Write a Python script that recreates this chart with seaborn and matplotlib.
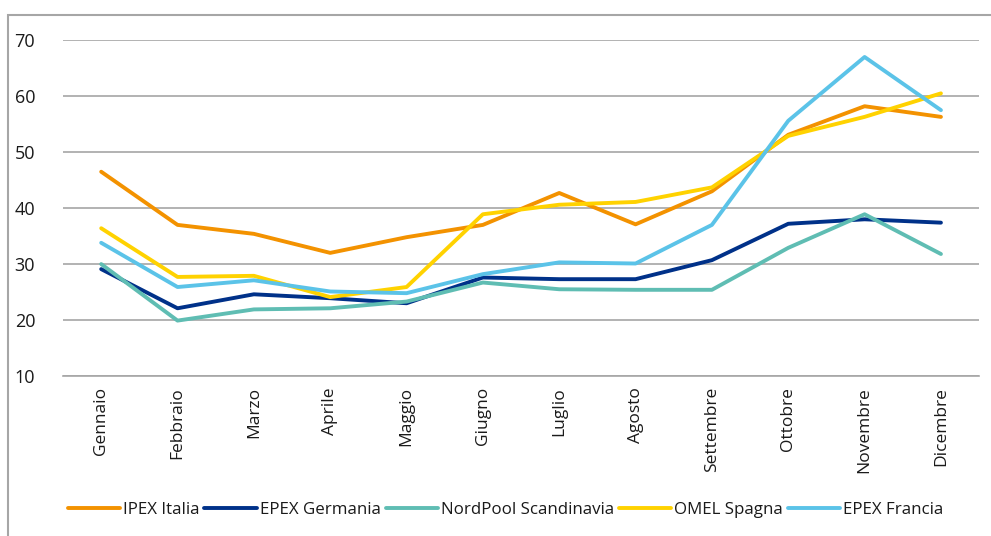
import pandas as pd
import matplotlib.pyplot as plt
import matplotlib.patches as patches
import seaborn as sns

mesi = ["Gennaio", "Febbraio", "Marzo", "Aprile", "Maggio", "Giugno",
        "Luglio", "Agosto", "Settembre", "Ottobre", "Novembre", "Dicembre"]

ipex_italia = [46.5, 37.0, 35.4, 32.0, 34.8, 37.0, 42.7, 37.1, 43.0, 53.1, 58.2, 56.3]
epex_germania = [29.1, 22.1, 24.6, 23.9, 23.0, 27.6, 27.3, 27.3, 30.7, 37.2, 38.0, 37.4]
nordpool = [30.0, 19.9, 21.9, 22.1, 23.3, 26.7, 25.5, 25.4, 25.4, 32.9, 38.9, 31.8]
omel_spagna = [36.4, 27.7, 27.9, 24.1, 25.9, 38.9, 40.6, 41.1, 43.7, 52.9, 56.3, 60.5]
epex_francia = [33.8, 25.9, 27.1, 25.1, 24.8, 28.2, 30.3, 30.1, 37.0, 55.6, 67.0, 57.5]

series = {
    "IPEX Italia": ipex_italia,
    "EPEX Germania": epex_germania,
    "NordPool Scandinavia": nordpool,
    "OMEL Spagna": omel_spagna,
    "EPEX Francia": epex_francia,
}
colors = ["#F39200", "#003189", "#5FBDB3", "#FFD200", "#5BC3E8"]

rows = []
for name, vals in series.items():
    for i, v in enumerate(vals):
        rows.append({"idx": i, "mese": mesi[i], "valore": v, "mercato": name})
df = pd.DataFrame(rows)

sns.set_style("white")
plt.rcParams["font.family"] = ["Open Sans", "DejaVu Sans"]

fig = plt.figure(figsize=(9.91, 5.36), dpi=100)
ax = fig.add_axes([0.0636, 0.2985, 0.9244, 0.6265])

sns.lineplot(data=df, x="idx", y="valore", hue="mercato",
             palette=dict(zip(series.keys(), colors)), linewidth=2.8,
             ax=ax, legend=True)

ax.set_xlim(-0.5, len(mesi) - 0.5)
ax.set_ylim(10, 70)
ax.set_yticks(range(10, 71, 10))
ax.yaxis.grid(True, color="#A6A6A6", linewidth=1.2)
ax.set_axisbelow(True)
ax.tick_params(axis="y", length=0, labelsize=13, pad=20, labelcolor="#1a1a1a")

ax.set_xticks(range(len(mesi)))
ax.set_xticklabels(mesi, rotation=90, fontsize=12.5, color="#1a1a1a")
ax.tick_params(axis="x", length=0, pad=8)
ax.set_xticks([i - 0.5 for i in range(len(mesi) + 1)], minor=True)
ax.tick_params(axis="x", which="minor", length=5, color="#A6A6A6", width=1.2)
ax.set_xlabel("")
ax.set_ylabel("")

for s in ["left", "right", "top"]:
    ax.spines[s].set_visible(False)
ax.spines["bottom"].set_color("#A6A6A6")
ax.spines["bottom"].set_linewidth(1.2)

handles, labels = ax.get_legend_handles_labels()
leg = ax.legend(handles, labels, loc="center", bbox_to_anchor=(0.51, 0.048),
                bbox_transform=fig.transFigure, ncol=5, frameon=False,
                fontsize=12.2, handlelength=3.1, handletextpad=0.15,
                columnspacing=0.3)
for t in leg.get_texts():
    t.set_color("#1a1a1a")

# chart frame, only left and top edges fall inside the image
frame = patches.Rectangle((8 / 991, -0.05), 1.05, 1 - 15 / 536 + 0.05,
                          transform=fig.transFigure, fill=False,
                          edgecolor="#A6A6A6", linewidth=1.5, clip_on=False)
fig.patches.append(frame)

fig.savefig("out.png", dpi=100)
